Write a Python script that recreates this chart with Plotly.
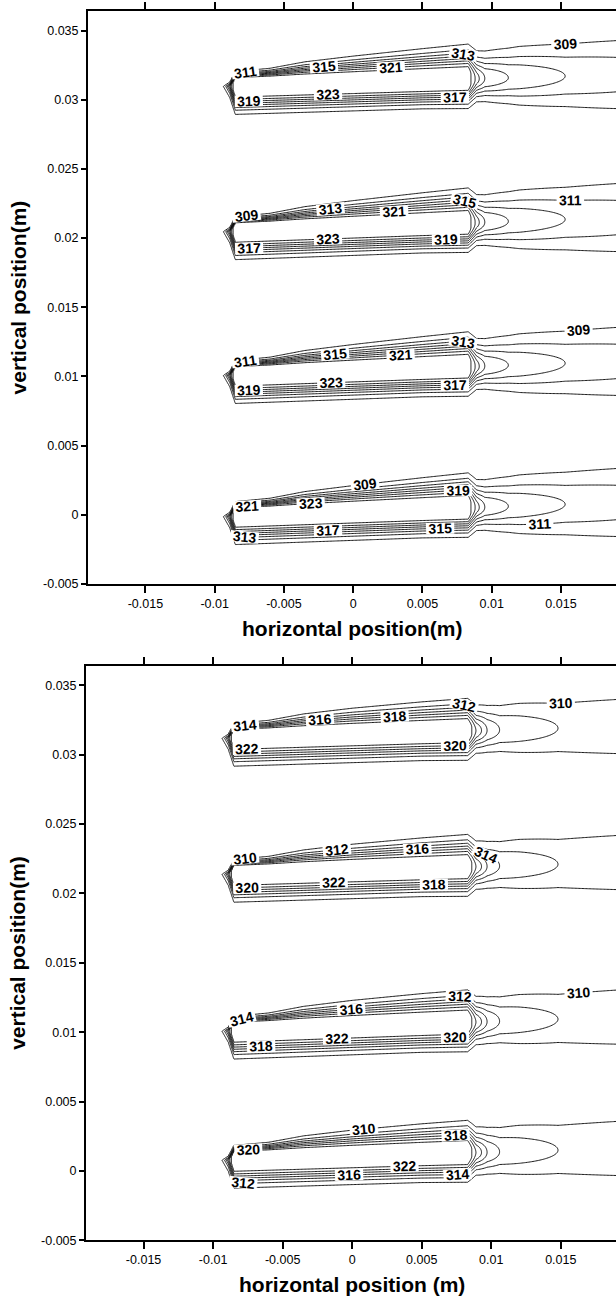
import numpy as np
import plotly.graph_objects as go

# ---------------- axes ----------------
x_tick_vals = [-0.015, -0.01, -0.005, 0, 0.005, 0.01, 0.015]
x_tick_text = ["-0.015", "-0.01", "-0.005", "0", "0.005", "0.01", "0.015"]
y_tick_vals = [-0.005, 0, 0.005, 0.01, 0.015, 0.02, 0.025, 0.03, 0.035]
y_tick_text = ["-0.005", "0", "0.005", "0.01", "0.015", "0.02", "0.025", "0.03", "0.035"]

# ---------------- tube geometry (m) ----------------
tube_x_lead = -0.0085          # leading (left) edge of each tube
tube_x_trail = 0.0083          # trailing (right) edge of each tube
tube_half_thick = 0.0005
tip_length = 0.00056           # decay length ahead of the leading edge

# top panel: centre heights at leading / trailing edge
top_y_lead = [0.0310, 0.0205, 0.0101, -0.0001]
top_y_trail = [0.0315, 0.0211, 0.0107, 0.0005]
# bottom panel
bot_y_lead = [0.0312, 0.0214, 0.0101, 0.0008]
bot_y_trail = [0.0317, 0.0219, 0.0107, 0.0013]

# thermal layer thickness above / below the tubes along x
layer_x = [-0.0085, -0.006, -0.0035, 0.0, 0.005, 0.0083, 0.012, 0.019]
top_layer_above = [0.00035, 0.00045, 0.0007, 0.0009, 0.00115, 0.0013, 0.0018, 0.0023]
top_layer_below = [0.001, 0.001, 0.001, 0.001, 0.001, 0.00105, 0.0016, 0.0023]
bot_layer_above = [0.00035, 0.00045, 0.0007, 0.0009, 0.0011, 0.0012, 0.0017, 0.0022]
bot_layer_below = [0.001, 0.001, 0.001, 0.001, 0.001, 0.00105, 0.0015, 0.0022]

# ---------------- temperatures (K) ----------------
top_T_ambient, top_T_wall = 307.5, 324.5
top_levels = [309, 311, 313, 315, 317, 319, 321, 323]
# x where each isotherm closes behind the tubes
top_lobe_end = [0.045, 0.0245, 0.0153, 0.0112, 0.0095, 0.0091, 0.0088, 0.0085]

bot_T_ambient, bot_T_wall = 308.6, 323.5
bot_levels = [310, 312, 314, 316, 318, 320, 322]
bot_lobe_end = [0.04, 0.0148, 0.0106, 0.0097, 0.0093, 0.0089, 0.0086]

# ---------------- grid ----------------
xg = np.arange(-0.0196, 0.0197, 0.0001)
yg = np.arange(-0.0056, 0.0372, 0.00005)
X, Y = np.meshgrid(xg, yg)


def tube_field(y_lead, y_trail, above, below, levels, lobe_end, t_amb, t_wall):
    xl, xr, h = tube_x_lead, tube_x_trail, tube_half_thick
    slope = (y_trail - y_lead) / (xr - xl)
    d = Y - (y_lead + slope * (X - xl))
    delta = np.where(d >= 0, np.interp(X, layer_x, above), np.interp(X, layer_x, below))
    hw = np.where(X < xl, h * np.clip(1 - (xl - X) / 0.0004, 0, 1),
                  np.where(X > xr, h * np.clip(1 - (X - xr) / 0.0006, 0, 1), h))
    r = np.maximum(np.abs(d) - hw, 0) / delta
    r = r + np.where(X < xl, (xl - X) / tip_length, 0)
    ratio = [(lv - t_amb) / (t_wall - t_amb) for lv in levels]
    order = np.argsort(lobe_end)
    gx = np.concatenate([[xr], np.array(lobe_end)[order]])
    gv = np.concatenate([[1.0], np.array(ratio)[order]])
    amp = np.where(X <= xr, 1.0, np.interp(X, gx, gv))
    return amp * np.exp(-r ** 2)


def panel_field(y_lead, y_trail, above, below, levels, lobe_end, t_amb, t_wall):
    f = np.zeros_like(X)
    for a, b in zip(y_lead, y_trail):
        f = np.maximum(f, tube_field(a, b, above, below, levels, lobe_end, t_amb, t_wall))
    return (t_amb + (t_wall - t_amb) * f).astype(np.float32)


T_top = panel_field(top_y_lead, top_y_trail, top_layer_above, top_layer_below,
                    top_levels, top_lobe_end, top_T_ambient, top_T_wall)
T_bot = panel_field(bot_y_lead, bot_y_trail, bot_layer_above, bot_layer_below,
                    bot_levels, bot_lobe_end, bot_T_ambient, bot_T_wall)

black = [[0, "black"], [1, "black"]]
label_font = dict(family="Liberation Sans Narrow, Liberation Sans, Arial", size=14,
                  color="black", weight="bold")

fig = go.Figure()
fig.add_trace(go.Contour(
    x=xg, y=yg, z=T_top, xaxis="x", yaxis="y",
    colorscale=black, showscale=False,
    contours=dict(coloring="lines", start=min(top_levels), end=max(top_levels), size=2,
                  showlabels=True, labelfont=label_font, labelformat=".0f"),
    line=dict(width=0.9), hoverinfo="skip"))
fig.add_trace(go.Contour(
    x=xg, y=yg, z=T_bot, xaxis="x2", yaxis="y2",
    colorscale=black, showscale=False,
    contours=dict(coloring="lines", start=min(bot_levels), end=max(bot_levels), size=2,
                  showlabels=True, labelfont=label_font, labelformat=".0f"),
    line=dict(width=0.9), hoverinfo="skip"))

W, H = 616, 1308
tick_font = dict(family="Liberation Sans, Arial", size=12.5, color="black")


def xaxis(left_px, anchor):
    return dict(domain=[left_px / W, 1], range=[-0.01914, 0.01897], anchor=anchor,
                tickvals=x_tick_vals, ticktext=x_tick_text, ticks="outside", ticklen=7,
                tickwidth=1.5, tickcolor="black", showline=True, linecolor="black",
                linewidth=2, mirror="ticks", showgrid=False, zeroline=False,
                tickfont=tick_font)


def yaxis(top_px, bottom_px, anchor):
    return dict(domain=[1 - bottom_px / H, 1 - top_px / H], range=[-0.005, 0.0364],
                anchor=anchor, tickvals=y_tick_vals, ticktext=y_tick_text,
                ticks="outside", ticklen=5, tickwidth=1.5, tickcolor="black",
                showline=True, linecolor="black", linewidth=2, mirror=False,
                showgrid=False, zeroline=False, tickfont=tick_font)


title_font = dict(family="Liberation Sans, Arial", size=21, color="black", weight="bold")


def title(text, x_px, y_px, angle=0):
    return dict(text=text, x=x_px / W, y=1 - y_px / H, xref="paper", yref="paper",
                xanchor="center", yanchor="middle", showarrow=False,
                textangle=angle, font=title_font)


fig.update_layout(
    width=W, height=H, margin=dict(l=0, r=0, t=0, b=0),
    paper_bgcolor="white", plot_bgcolor="white", showlegend=False,
    xaxis=xaxis(88, "y"), yaxis=yaxis(11.3, 587, "x"),
    xaxis2=xaxis(86, "y2"), yaxis2=yaxis(669.3, 1247, "x2"),
    annotations=[
        title("horizontal position(m)", 352, 632),
        title("horizontal position (m)", 352, 1291),
        title("vertical position(m)", 18, 299, -90),
        title("vertical position(m)", 18, 958, -90),
    ],
)

fig.write_html("out.html")
